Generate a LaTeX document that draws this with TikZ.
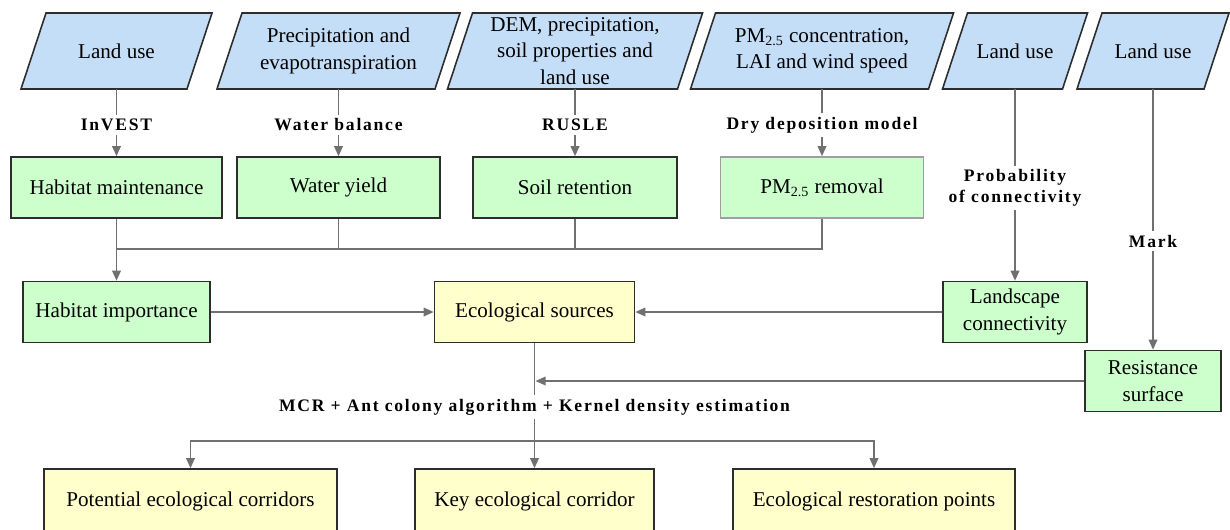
\documentclass[tikz,border=0pt]{standalone}
\usepackage{fontspec}
\setmainfont{Liberation Serif}
\usetikzlibrary{arrows.meta}

\definecolor{inblue}{RGB}{197,222,248}
\definecolor{outgreen}{RGB}{204,255,204}
\definecolor{resyellow}{RGB}{255,255,204}
\definecolor{linegray}{RGB}{112,112,112}
\definecolor{edgegray}{RGB}{45,45,45}

\tikzset{
    databox/.style={draw=edgegray, line width=0.9pt, fill=inblue, line join=miter},
    datatext/.style={minimum height=1.52cm, align=center, inner sep=0pt},
    greenbox/.style={rectangle, draw=edgegray, line width=0.9pt, fill=outgreen,
        minimum width=#1*0.02cm, minimum height=1.22cm, align=center},
    yellowbox/.style={greenbox=#1, fill=resyellow},
    method/.style={font=\bfseries\addfontfeatures{LetterSpace=10}, align=center, inner sep=2pt},
    link/.style={draw=linegray, line width=1pt},
    arrow/.style={link, -{Triangle[length=0.2cm,width=0.17cm]}}
}

\begin{document}
\begin{tikzpicture}[x=0.02cm, y=-0.02cm, font=\fontsize{12}{15}\selectfont]
        \useasboundingbox (0,0) rectangle (1230,529);

        % input data (parallelograms, slant 25)
        \foreach \n/\x/\w/\t in
        { LandA/116.5/191/{Land use},
            Climate/338.5/243/{Precipitation and\\evapotranspiration},
            SoilData/575/255/{DEM, precipitation,\\soil properties and\\land use},
            AirData/822/263/{PM\textsubscript{2.5} concentration,\\LAI and wind speed},
            LandB/1015/145/{Land use},
            LandC/1153/152/{Land use}}
        {
            \draw[databox] ({\x-\w/2},89) -- ({\x-\w/2+25},13) -- ({\x+\w/2},13) -- ({\x+\w/2-25},89) -- cycle;
            \node[datatext] (\n) at (\x,51) {\t};
        };

        % models
        \node[method] (mInvest) at (116.5,125) {InVEST};
        \node[method] (mWater) at (338.5,125) {Water balance};
        \node[method] (mRusle) at (575,125) {RUSLE};
        \node[method] (mDry) at (822,125) {Dry deposition model};
        \node[method] (mProb) at (1015,188) {Probability\\of connectivity};
        \node[method] (mMark) at (1153,241) {Mark};
        \node[method] (mMCR) at (534.5,407) {MCR + Ant colony algorithm + Kernel density estimation};

        % services
        \node[greenbox=211] (HabMaint) at (116.5,187.5) {Habitat maintenance};
        \node[greenbox=203] (WaterYield) at (338.5,187.5) {Water yield};
        \node[greenbox=204] (SoilRet) at (575,187.5) {Soil retention};
        \node[greenbox=203, draw=gray!75] (PMRemoval) at (822,187.5) {PM\textsubscript{2.5} removal};

        \node[greenbox=187] (HabImp) at (116.5,312) {Habitat importance};
        \node[yellowbox=200] (EcoSrc) at (534.5,312) {Ecological sources};
        \node[greenbox=144] (LandConn) at (1015,312) {Landscape\\connectivity};
        \node[greenbox=136] (Resist) at (1153,381) {Resistance\\surface};

        \node[yellowbox=293, minimum height=1.28cm] (PotCorr) at (190.5,501) {Potential ecological corridors};
        \node[yellowbox=239, minimum height=1.28cm] (KeyCorr) at (534.5,501) {Key ecological corridor};
        \node[yellowbox=282, minimum height=1.28cm] (RestPts) at (874,501) {Ecological restoration points};

        \coordinate (Join) at (116.5,249);
        \coordinate (RsIn) at (535.5,381);
        \coordinate (Split) at (534.5,441);

        \foreach \a/\m/\b in
        { LandA/mInvest/HabMaint,
            Climate/mWater/WaterYield,
            SoilData/mRusle/SoilRet,
            AirData/mDry/PMRemoval,
            LandB/mProb/LandConn,
            LandC/mMark/Resist}
        {
            \draw[link] (\a) -- (\m);
            \draw[arrow] (\m) -- (\b);
        };

        \draw[link] (WaterYield) |- (Join);
        \draw[link] (SoilRet) |- (Join);
        \draw[link] (PMRemoval) |- (Join);
        \draw[arrow] (HabMaint) -- (HabImp);

        \draw[arrow] (HabImp) -- (EcoSrc);
        \draw[arrow] (LandConn) -- (EcoSrc);
        \draw[arrow] (Resist) -- (RsIn);

        \draw[link] (EcoSrc) -- (mMCR);
        \draw[arrow] (mMCR) -- (KeyCorr);
        \draw[arrow] (Split) -| (PotCorr);
        \draw[arrow] (Split) -| (RestPts);
\end{tikzpicture}
\end{document}
